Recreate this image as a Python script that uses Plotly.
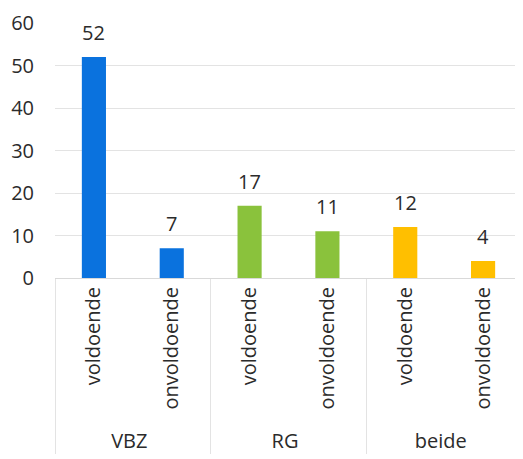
import plotly.graph_objects as go

groups = ["VBZ", "VBZ", "RG", "RG", "beide", "beide"]
categories = ["voldoende", "onvoldoende", "voldoende", "onvoldoende", "voldoende", "onvoldoende"]
values = [52, 7, 17, 11, 12, 4]
colors = ["#0A72DE", "#0A72DE", "#8AC23C", "#8AC23C", "#FFBF00", "#FFBF00"]

font_family = "Open Sans, Noto Sans, sans-serif"
text_color = "#2B2B2B"
fs = 20

fig = go.Figure(
    go.Bar(
        x=[groups, categories],
        y=values,
        marker=dict(color=colors, line=dict(width=0)),
        width=0.31,
        cliponaxis=False,
    )
)

for i, v in enumerate(values):
    fig.add_annotation(
        x=i, y=v, xref="x", yref="y",
        text=str(v), showarrow=False,
        yanchor="bottom", yshift=9,
        font=dict(size=fs, color=text_color, family=font_family),
    )

fig.update_layout(
    width=515,
    height=451,
    margin=dict(l=47, r=1, t=15, b=181),
    paper_bgcolor="white",
    plot_bgcolor="white",
    showlegend=False,
    font=dict(family=font_family, size=fs, color=text_color),
)

fig.update_yaxes(
    range=[0, 60],
    dtick=10,
    showgrid=True,
    gridcolor="#E3E3E3",
    gridwidth=1,
    zeroline=False,
    showline=False,
    automargin=False,
    tickfont=dict(size=fs, color=text_color),
    ticklabelstandoff=20,
)

fig.update_xaxes(
    type="multicategory",
    tickangle=-90,
    showline=True,
    linecolor="#D9D9D9",
    linewidth=1,
    automargin=False,
    showdividers=True,
    dividercolor="#E3E3E3",
    dividerwidth=1,
    tickfont=dict(size=fs, color=text_color),
)

fig.write_html("out.html")
